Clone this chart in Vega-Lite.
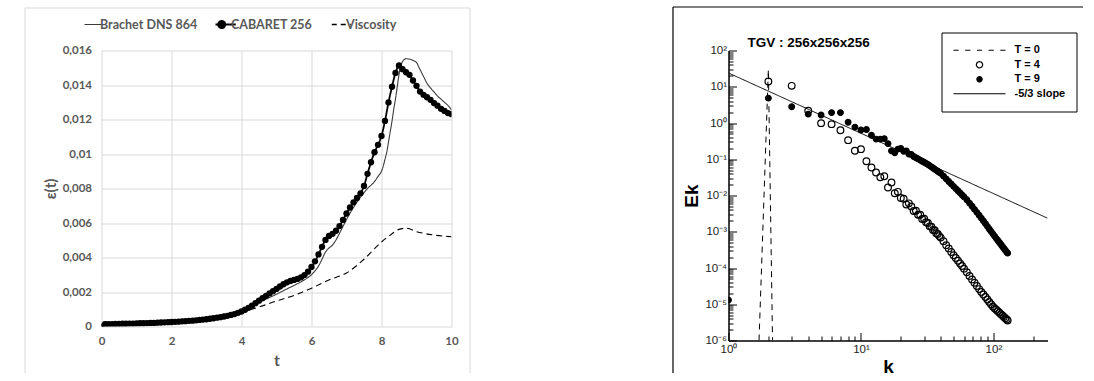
{
  "$schema": "https://vega.github.io/schema/vega-lite/v6.json",
  "background": "white",
  "padding": {"left": 24.5, "top": 6.5, "right": 0, "bottom": 0},
  "bounds": "flush",
  "spacing": 277,
  "config": {"view": {"stroke": null}},
  "datasets": {
    "eps": [
      {"t":0,"e":0,"s":"CABARET 256"},{"t":0.1,"e":0.00013,"s":"CABARET 256"},{"t":0.2,"e":0.00014,"s":"CABARET 256"},{"t":0.3,"e":0.00014,"s":"CABARET 256"},{"t":0.4,"e":0.00015,"s":"CABARET 256"},{"t":0.5,"e":0.00015,"s":"CABARET 256"},{"t":0.6,"e":0.00016,"s":"CABARET 256"},{"t":0.7,"e":0.00016,"s":"CABARET 256"},{"t":0.8,"e":0.00017,"s":"CABARET 256"},{"t":0.9,"e":0.00017,"s":"CABARET 256"},
      {"t":1.0,"e":0.00018,"s":"CABARET 256"},{"t":1.1,"e":0.00019,"s":"CABARET 256"},{"t":1.2,"e":0.00019,"s":"CABARET 256"},{"t":1.3,"e":0.0002,"s":"CABARET 256"},{"t":1.4,"e":0.00021,"s":"CABARET 256"},{"t":1.5,"e":0.00021,"s":"CABARET 256"},{"t":1.6,"e":0.00022,"s":"CABARET 256"},{"t":1.7,"e":0.00023,"s":"CABARET 256"},{"t":1.8,"e":0.00024,"s":"CABARET 256"},{"t":1.9,"e":0.00025,"s":"CABARET 256"},
      {"t":2.0,"e":0.00026,"s":"CABARET 256"},{"t":2.1,"e":0.00027,"s":"CABARET 256"},{"t":2.2,"e":0.00028,"s":"CABARET 256"},{"t":2.3,"e":0.0003,"s":"CABARET 256"},{"t":2.4,"e":0.00031,"s":"CABARET 256"},{"t":2.5,"e":0.00033,"s":"CABARET 256"},{"t":2.6,"e":0.00034,"s":"CABARET 256"},{"t":2.7,"e":0.00036,"s":"CABARET 256"},{"t":2.8,"e":0.00038,"s":"CABARET 256"},{"t":2.9,"e":0.0004,"s":"CABARET 256"},
      {"t":3.0,"e":0.00042,"s":"CABARET 256"},{"t":3.1,"e":0.00045,"s":"CABARET 256"},{"t":3.2,"e":0.00048,"s":"CABARET 256"},{"t":3.3,"e":0.00051,"s":"CABARET 256"},{"t":3.4,"e":0.00054,"s":"CABARET 256"},{"t":3.5,"e":0.00058,"s":"CABARET 256"},{"t":3.6,"e":0.00062,"s":"CABARET 256"},{"t":3.7,"e":0.00067,"s":"CABARET 256"},{"t":3.8,"e":0.00072,"s":"CABARET 256"},{"t":3.9,"e":0.00079,"s":"CABARET 256"},
      {"t":4.0,"e":0.00087,"s":"CABARET 256"},{"t":4.1,"e":0.00097,"s":"CABARET 256"},{"t":4.2,"e":0.00108,"s":"CABARET 256"},{"t":4.3,"e":0.00121,"s":"CABARET 256"},{"t":4.4,"e":0.00135,"s":"CABARET 256"},{"t":4.5,"e":0.0015,"s":"CABARET 256"},{"t":4.6,"e":0.00164,"s":"CABARET 256"},{"t":4.7,"e":0.00178,"s":"CABARET 256"},{"t":4.8,"e":0.00192,"s":"CABARET 256"},{"t":4.9,"e":0.00205,"s":"CABARET 256"},
      {"t":5.0,"e":0.00218,"s":"CABARET 256"},{"t":5.1,"e":0.00232,"s":"CABARET 256"},{"t":5.2,"e":0.00245,"s":"CABARET 256"},{"t":5.3,"e":0.00256,"s":"CABARET 256"},{"t":5.4,"e":0.00264,"s":"CABARET 256"},{"t":5.5,"e":0.0027,"s":"CABARET 256"},{"t":5.6,"e":0.00276,"s":"CABARET 256"},{"t":5.7,"e":0.00285,"s":"CABARET 256"},{"t":5.8,"e":0.00298,"s":"CABARET 256"},{"t":5.9,"e":0.00318,"s":"CABARET 256"},
      {"t":6.0,"e":0.00345,"s":"CABARET 256"},{"t":6.1,"e":0.00378,"s":"CABARET 256"},{"t":6.2,"e":0.00418,"s":"CABARET 256"},{"t":6.3,"e":0.00462,"s":"CABARET 256"},{"t":6.4,"e":0.00502,"s":"CABARET 256"},{"t":6.5,"e":0.00525,"s":"CABARET 256"},{"t":6.6,"e":0.00537,"s":"CABARET 256"},{"t":6.7,"e":0.00555,"s":"CABARET 256"},{"t":6.8,"e":0.00582,"s":"CABARET 256"},{"t":6.9,"e":0.00618,"s":"CABARET 256"},
      {"t":7.0,"e":0.00655,"s":"CABARET 256"},{"t":7.1,"e":0.0069,"s":"CABARET 256"},{"t":7.2,"e":0.0072,"s":"CABARET 256"},{"t":7.3,"e":0.00745,"s":"CABARET 256"},{"t":7.4,"e":0.00772,"s":"CABARET 256"},{"t":7.5,"e":0.00815,"s":"CABARET 256"},{"t":7.6,"e":0.00885,"s":"CABARET 256"},{"t":7.7,"e":0.00952,"s":"CABARET 256"},{"t":7.8,"e":0.0101,"s":"CABARET 256"},{"t":7.9,"e":0.01053,"s":"CABARET 256"},
      {"t":8.0,"e":0.01105,"s":"CABARET 256"},{"t":8.1,"e":0.01192,"s":"CABARET 256"},{"t":8.2,"e":0.01299,"s":"CABARET 256"},{"t":8.3,"e":0.0139,"s":"CABARET 256"},{"t":8.4,"e":0.0147,"s":"CABARET 256"},{"t":8.5,"e":0.01513,"s":"CABARET 256"},{"t":8.6,"e":0.01492,"s":"CABARET 256"},{"t":8.7,"e":0.01474,"s":"CABARET 256"},{"t":8.8,"e":0.01459,"s":"CABARET 256"},{"t":8.9,"e":0.01426,"s":"CABARET 256"},
      {"t":9.0,"e":0.01395,"s":"CABARET 256"},{"t":9.1,"e":0.01362,"s":"CABARET 256"},{"t":9.2,"e":0.01343,"s":"CABARET 256"},{"t":9.3,"e":0.01329,"s":"CABARET 256"},{"t":9.4,"e":0.01314,"s":"CABARET 256"},{"t":9.5,"e":0.01295,"s":"CABARET 256"},{"t":9.6,"e":0.0128,"s":"CABARET 256"},{"t":9.7,"e":0.01262,"s":"CABARET 256"},{"t":9.8,"e":0.0125,"s":"CABARET 256"},{"t":9.9,"e":0.01237,"s":"CABARET 256"},
      {"t":10.0,"e":0.01231,"s":"CABARET 256"},
      {"t":0,"e":0.00012,"s":"Brachet DNS 864"},{"t":0.5,"e":0.00014,"s":"Brachet DNS 864"},{"t":1,"e":0.00017,"s":"Brachet DNS 864"},{"t":1.5,"e":0.0002,"s":"Brachet DNS 864"},{"t":2,"e":0.00025,"s":"Brachet DNS 864"},{"t":2.5,"e":0.00032,"s":"Brachet DNS 864"},{"t":3,"e":0.00041,"s":"Brachet DNS 864"},{"t":3.5,"e":0.00056,"s":"Brachet DNS 864"},{"t":4,"e":0.00085,"s":"Brachet DNS 864"},{"t":4.25,"e":0.0011,"s":"Brachet DNS 864"},
      {"t":4.5,"e":0.0014,"s":"Brachet DNS 864"},{"t":4.75,"e":0.00163,"s":"Brachet DNS 864"},{"t":5,"e":0.00187,"s":"Brachet DNS 864"},{"t":5.25,"e":0.00213,"s":"Brachet DNS 864"},{"t":5.5,"e":0.00238,"s":"Brachet DNS 864"},{"t":5.75,"e":0.00265,"s":"Brachet DNS 864"},{"t":6,"e":0.003,"s":"Brachet DNS 864"},{"t":6.1,"e":0.00322,"s":"Brachet DNS 864"},{"t":6.2,"e":0.0035,"s":"Brachet DNS 864"},{"t":6.3,"e":0.0039,"s":"Brachet DNS 864"},
      {"t":6.4,"e":0.00432,"s":"Brachet DNS 864"},{"t":6.5,"e":0.00455,"s":"Brachet DNS 864"},{"t":6.6,"e":0.00472,"s":"Brachet DNS 864"},{"t":6.7,"e":0.00502,"s":"Brachet DNS 864"},{"t":6.8,"e":0.0054,"s":"Brachet DNS 864"},{"t":6.9,"e":0.0058,"s":"Brachet DNS 864"},{"t":7.0,"e":0.0062,"s":"Brachet DNS 864"},{"t":7.2,"e":0.0069,"s":"Brachet DNS 864"},{"t":7.4,"e":0.0075,"s":"Brachet DNS 864"},{"t":7.6,"e":0.008,"s":"Brachet DNS 864"},
      {"t":7.8,"e":0.0084,"s":"Brachet DNS 864"},{"t":7.9,"e":0.0087,"s":"Brachet DNS 864"},{"t":8.0,"e":0.009,"s":"Brachet DNS 864"},{"t":8.05,"e":0.0093,"s":"Brachet DNS 864"},{"t":8.1,"e":0.0097,"s":"Brachet DNS 864"},{"t":8.15,"e":0.0101,"s":"Brachet DNS 864"},{"t":8.2,"e":0.0107,"s":"Brachet DNS 864"},{"t":8.25,"e":0.0113,"s":"Brachet DNS 864"},{"t":8.3,"e":0.0119,"s":"Brachet DNS 864"},{"t":8.35,"e":0.0126,"s":"Brachet DNS 864"},{"t":8.4,"e":0.0132,"s":"Brachet DNS 864"},
      {"t":8.45,"e":0.0139,"s":"Brachet DNS 864"},{"t":8.5,"e":0.0146,"s":"Brachet DNS 864"},{"t":8.55,"e":0.0151,"s":"Brachet DNS 864"},{"t":8.6,"e":0.01535,"s":"Brachet DNS 864"},{"t":8.65,"e":0.01548,"s":"Brachet DNS 864"},{"t":8.7,"e":0.01552,"s":"Brachet DNS 864"},{"t":8.8,"e":0.0155,"s":"Brachet DNS 864"},{"t":8.9,"e":0.01543,"s":"Brachet DNS 864"},{"t":9.0,"e":0.0153,"s":"Brachet DNS 864"},{"t":9.1,"e":0.0149,"s":"Brachet DNS 864"},
      {"t":9.2,"e":0.0145,"s":"Brachet DNS 864"},{"t":9.3,"e":0.0141,"s":"Brachet DNS 864"},{"t":9.4,"e":0.01383,"s":"Brachet DNS 864"},{"t":9.5,"e":0.0136,"s":"Brachet DNS 864"},{"t":9.6,"e":0.01336,"s":"Brachet DNS 864"},{"t":9.7,"e":0.01318,"s":"Brachet DNS 864"},{"t":9.8,"e":0.013,"s":"Brachet DNS 864"},{"t":9.9,"e":0.01281,"s":"Brachet DNS 864"},{"t":10.0,"e":0.01256,"s":"Brachet DNS 864"},
      {"t":0,"e":0.00012,"s":"Viscosity"},{"t":1,"e":0.00017,"s":"Viscosity"},{"t":2,"e":0.00025,"s":"Viscosity"},{"t":3,"e":0.0004,"s":"Viscosity"},{"t":3.5,"e":0.00055,"s":"Viscosity"},{"t":4,"e":0.00082,"s":"Viscosity"},{"t":4.25,"e":0.00098,"s":"Viscosity"},{"t":4.5,"e":0.00113,"s":"Viscosity"},{"t":5,"e":0.00148,"s":"Viscosity"},{"t":5.5,"e":0.0018,"s":"Viscosity"},
      {"t":6,"e":0.00222,"s":"Viscosity"},{"t":6.5,"e":0.0027,"s":"Viscosity"},{"t":7,"e":0.0031,"s":"Viscosity"},{"t":7.5,"e":0.0039,"s":"Viscosity"},{"t":8,"e":0.0049,"s":"Viscosity"},{"t":8.25,"e":0.0053,"s":"Viscosity"},{"t":8.5,"e":0.00563,"s":"Viscosity"},{"t":8.7,"e":0.0057,"s":"Viscosity"},{"t":9,"e":0.0055,"s":"Viscosity"},{"t":9.5,"e":0.0053,"s":"Viscosity"},{"t":10,"e":0.0052,"s":"Viscosity"}
    ],
    "spec": [
      {"k":1.7,"E":0.000001,"s":"T = 0"},{"k":2,"E":30,"s":"T = 0"},{"k":2.15,"E":0.000001,"s":"T = 0"},
      {"k":1,"E":24,"s":"-5/3 slope"},{"k":256,"E":0.00237,"s":"-5/3 slope"},
      {"k":2,"E":14,"s":"T = 4"},{"k":3,"E":10.6,"s":"T = 4"},{"k":4,"E":2.17,"s":"T = 4"},{"k":5,"E":0.99,"s":"T = 4"},{"k":6,"E":0.93,"s":"T = 4"},{"k":7,"E":0.63,"s":"T = 4"},{"k":8,"E":0.336,"s":"T = 4"},{"k":9,"E":0.171,"s":"T = 4"},{"k":10,"E":0.19,"s":"T = 4"},{"k":11,"E":0.088,"s":"T = 4"},
      {"k":12,"E":0.059,"s":"T = 4"},{"k":13,"E":0.043,"s":"T = 4"},{"k":14,"E":0.032,"s":"T = 4"},{"k":15,"E":0.034,"s":"T = 4"},{"k":16,"E":0.0166,"s":"T = 4"},{"k":17,"E":0.023,"s":"T = 4"},{"k":18,"E":0.0115,"s":"T = 4"},{"k":19,"E":0.0126,"s":"T = 4"},{"k":20,"E":0.0085,"s":"T = 4"},{"k":21,"E":0.00813,"s":"T = 4"},
      {"k":22,"E":0.00562,"s":"T = 4"},{"k":23,"E":0.00608,"s":"T = 4"},{"k":24,"E":0.00501,"s":"T = 4"},{"k":25,"E":0.00372,"s":"T = 4"},{"k":26,"E":0.0038,"s":"T = 4"},{"k":27,"E":0.00295,"s":"T = 4"},{"k":28,"E":0.00295,"s":"T = 4"},{"k":29,"E":0.00224,"s":"T = 4"},{"k":30,"E":0.00229,"s":"T = 4"},{"k":31,"E":0.00182,"s":"T = 4"},
      {"k":32,"E":0.00174,"s":"T = 4"},{"k":33,"E":0.00141,"s":"T = 4"},{"k":34,"E":0.00138,"s":"T = 4"},{"k":35,"E":0.00112,"s":"T = 4"},{"k":36,"E":0.0011,"s":"T = 4"},{"k":37,"E":0.000912,"s":"T = 4"},{"k":38,"E":0.000871,"s":"T = 4"},{"k":39,"E":0.000759,"s":"T = 4"},{"k":40,"E":0.00069,"s":"T = 4"},{"k":42,"E":0.00055,"s":"T = 4"},
      {"k":44,"E":0.000427,"s":"T = 4"},{"k":46,"E":0.000347,"s":"T = 4"},{"k":48,"E":0.000275,"s":"T = 4"},{"k":50,"E":0.000226,"s":"T = 4"},{"k":52,"E":0.000188,"s":"T = 4"},{"k":54,"E":0.000158,"s":"T = 4"},{"k":56,"E":0.000133,"s":"T = 4"},{"k":58,"E":0.000113,"s":"T = 4"},{"k":60,"E":0.000096,"s":"T = 4"},{"k":63,"E":0.0000764,"s":"T = 4"},
      {"k":66,"E":0.0000605,"s":"T = 4"},{"k":69,"E":0.0000485,"s":"T = 4"},{"k":72,"E":0.0000392,"s":"T = 4"},{"k":75,"E":0.0000319,"s":"T = 4"},{"k":78,"E":0.0000262,"s":"T = 4"},{"k":81,"E":0.0000219,"s":"T = 4"},{"k":84,"E":0.0000185,"s":"T = 4"},{"k":87,"E":0.0000158,"s":"T = 4"},{"k":90,"E":0.0000135,"s":"T = 4"},{"k":93,"E":0.0000116,"s":"T = 4"},
      {"k":96,"E":0.00001,"s":"T = 4"},{"k":99,"E":0.00000871,"s":"T = 4"},{"k":102,"E":0.00000778,"s":"T = 4"},{"k":105,"E":0.00000705,"s":"T = 4"},{"k":108,"E":0.0000064,"s":"T = 4"},{"k":111,"E":0.00000583,"s":"T = 4"},{"k":114,"E":0.00000533,"s":"T = 4"},{"k":117,"E":0.00000488,"s":"T = 4"},{"k":120,"E":0.00000448,"s":"T = 4"},{"k":123,"E":0.00000411,"s":"T = 4"},
      {"k":126,"E":0.0000038,"s":"T = 4"},{"k":128,"E":0.00000355,"s":"T = 4"},
      {"k":1,"E":0.000013,"s":"T = 9"},{"k":2,"E":4.84,"s":"T = 9"},{"k":3,"E":2.8,"s":"T = 9"},{"k":4,"E":1.75,"s":"T = 9"},{"k":5,"E":1.66,"s":"T = 9"},{"k":6,"E":1.93,"s":"T = 9"},{"k":7,"E":1.93,"s":"T = 9"},{"k":8,"E":1.05,"s":"T = 9"},{"k":9,"E":0.77,"s":"T = 9"},{"k":10,"E":0.64,"s":"T = 9"},
      {"k":11,"E":0.66,"s":"T = 9"},{"k":12,"E":0.46,"s":"T = 9"},{"k":13,"E":0.36,"s":"T = 9"},{"k":14,"E":0.36,"s":"T = 9"},{"k":15,"E":0.37,"s":"T = 9"},{"k":16,"E":0.27,"s":"T = 9"},{"k":17,"E":0.17,"s":"T = 9"},{"k":18,"E":0.15,"s":"T = 9"},{"k":19,"E":0.19,"s":"T = 9"},{"k":20,"E":0.2,"s":"T = 9"},
      {"k":21,"E":0.166,"s":"T = 9"},{"k":22,"E":0.17,"s":"T = 9"},{"k":23,"E":0.138,"s":"T = 9"},{"k":24,"E":0.135,"s":"T = 9"},{"k":25,"E":0.119,"s":"T = 9"},{"k":26,"E":0.11,"s":"T = 9"},{"k":27,"E":0.102,"s":"T = 9"},{"k":28,"E":0.0946,"s":"T = 9"},{"k":29,"E":0.0881,"s":"T = 9"},{"k":30,"E":0.0824,"s":"T = 9"},
      {"k":31,"E":0.0771,"s":"T = 9"},{"k":32,"E":0.072,"s":"T = 9"},{"k":33,"E":0.0667,"s":"T = 9"},{"k":34,"E":0.0618,"s":"T = 9"},{"k":35,"E":0.0575,"s":"T = 9"},{"k":36,"E":0.0536,"s":"T = 9"},{"k":37,"E":0.05,"s":"T = 9"},{"k":38,"E":0.0468,"s":"T = 9"},{"k":39,"E":0.0439,"s":"T = 9"},{"k":40,"E":0.0409,"s":"T = 9"},
      {"k":42,"E":0.0342,"s":"T = 9"},{"k":44,"E":0.0288,"s":"T = 9"},{"k":46,"E":0.0244,"s":"T = 9"},{"k":48,"E":0.0209,"s":"T = 9"},{"k":50,"E":0.0179,"s":"T = 9"},{"k":52,"E":0.0155,"s":"T = 9"},{"k":54,"E":0.0135,"s":"T = 9"},{"k":56,"E":0.0118,"s":"T = 9"},{"k":58,"E":0.01035,"s":"T = 9"},{"k":60,"E":0.00914,"s":"T = 9"},
      {"k":63,"E":0.00764,"s":"T = 9"},{"k":66,"E":0.00617,"s":"T = 9"},{"k":69,"E":0.00504,"s":"T = 9"},{"k":72,"E":0.00413,"s":"T = 9"},{"k":75,"E":0.00343,"s":"T = 9"},{"k":78,"E":0.00286,"s":"T = 9"},{"k":81,"E":0.00238,"s":"T = 9"},{"k":84,"E":0.00199,"s":"T = 9"},{"k":87,"E":0.00167,"s":"T = 9"},{"k":90,"E":0.00141,"s":"T = 9"},
      {"k":93,"E":0.00119,"s":"T = 9"},{"k":96,"E":0.00102,"s":"T = 9"},{"k":99,"E":0.000875,"s":"T = 9"},{"k":102,"E":0.000757,"s":"T = 9"},{"k":105,"E":0.000658,"s":"T = 9"},{"k":108,"E":0.000575,"s":"T = 9"},{"k":111,"E":0.000505,"s":"T = 9"},{"k":114,"E":0.000444,"s":"T = 9"},{"k":117,"E":0.000392,"s":"T = 9"},{"k":120,"E":0.000347,"s":"T = 9"},
      {"k":123,"E":0.000308,"s":"T = 9"},{"k":126,"E":0.000275,"s":"T = 9"},{"k":128,"E":0.000257,"s":"T = 9"}
    ]
  },
  "hconcat": [
    {
      "width": 350,
      "height": 276,
      "data": {"name": "eps"},
      "layer": [
        {
          "transform": [{"filter": "false"}],
          "mark": {"type": "point", "opacity": 0},
          "encoding": {
            "x": {"field": "t", "type": "quantitative", "scale": {"type": "linear", "domain": [0, 1], "range": [-77, 368], "nice": false, "zero": false},
              "axis": {"orient": "top", "offset": 43, "domain": true, "domainColor": "#d9d9d9", "domainWidth": 1, "ticks": false, "labels": false, "grid": false, "title": null}},
            "y": {"field": "e", "type": "quantitative", "scale": {"type": "linear", "domain": [0, 1], "range": [322, -43], "nice": false, "zero": false},
              "axis": {"orient": "left", "offset": 77, "domain": true, "domainColor": "#d9d9d9", "domainWidth": 1, "ticks": false, "labels": false, "grid": false, "title": null}}
          }
        },
        {
          "transform": [{"filter": "false"}],
          "mark": {"type": "point", "opacity": 0},
          "encoding": {
            "x": {"field": "t", "type": "quantitative", "scale": {"type": "linear", "domain": [0, 1], "range": [-77, 368], "nice": false, "zero": false}, "axis": null},
            "y": {"field": "e", "type": "quantitative", "scale": {"type": "linear", "domain": [0, 1], "range": [322, -43], "nice": false, "zero": false},
              "axis": {"orient": "right", "offset": 18, "domain": true, "domainColor": "#d9d9d9", "domainWidth": 1, "ticks": false, "labels": false, "grid": false, "title": null}}
          }
        },
        {
          "mark": {"type": "line", "interpolate": "monotone", "clip": true},
          "encoding": {
            "x": {"field": "t", "type": "quantitative", "scale": {"domain": [0, 10], "nice": false},
              "axis": {"orient": "bottom", "values": [0, 2, 4, 6, 8, 10], "tickCount": 30, "format": "d", "title": "t", "grid": true, "gridColor": "#d9d9d9", "gridWidth": 1, "domain": false, "ticks": false, "labelFlush": false, "labelOverlap": false,
                "labelFont": "Lato", "labelFontSize": 11.5, "labelFontWeight": "bold", "labelColor": "#595959", "labelPadding": 9,
                "titleFont": "Lato", "titleFontSize": 16, "titleFontWeight": "bold", "titleColor": "#595959", "titlePadding": 5}},
            "y": {"field": "e", "type": "quantitative", "scale": {"domain": [0, 0.016], "nice": false},
              "axis": {"orient": "left", "values": [0, 0.002, 0.004, 0.006, 0.008, 0.01, 0.012, 0.014, 0.016], "tickCount": 30, "labelExpr": "replace(toString(datum.value), '.', ',')", "labelOverlap": false,
                "title": "ε(t)", "grid": true, "gridColor": "#d9d9d9", "gridWidth": 1, "domain": false, "ticks": false,
                "labelFont": "Lato", "labelFontSize": 11.5, "labelFontWeight": "bold", "labelColor": "#595959", "labelPadding": 10,
                "titleFont": "Lato", "titleFontSize": 15, "titleFontWeight": "bold", "titleColor": "#595959", "titlePadding": 4}},
            "stroke": {"field": "s", "type": "nominal",
              "scale": {"domain": ["Brachet DNS 864", "CABARET 256", "Viscosity"], "range": ["#3c3c3c", "#000000", "#000000"]},
              "legend": {"orient": "none", "legendX": -17, "legendY": -33, "direction": "horizontal", "columns": 3, "title": null,
                "symbolType": "stroke", "symbolSize": 784, "clipHeight": 14, "padding": 0, "labelOffset": 3, "columnPadding": 18,
                "labelFont": "Lato", "labelFontSize": 12.5, "labelFontWeight": "bold", "labelColor": "#595959",
                "encode": {"symbols": {"update": {
                  "size": {"value": 784},
                  "shape": {"signal": "datum.value === 'CABARET 256' ? 'M-1,0H1M0.25,0A0.25,0.25,0,1,1,-0.25,0A0.25,0.25,0,1,1,0.25,0Z' : 'stroke'"},
                  "fill": {"signal": "datum.value === 'CABARET 256' ? '#000000' : 'transparent'"},
                  "strokeWidth": {"signal": "datum.value === 'CABARET 256' ? 2 : datum.value === 'Viscosity' ? 1.5 : 1.1"},
                  "strokeDash": {"signal": "datum.value === 'Viscosity' ? [5, 4] : [1, 0]"}
                }}}}},
            "strokeWidth": {"condition": {"test": "datum.s === 'CABARET 256'", "value": 1.8}, "value": 1.1},
            "strokeDash": {"condition": {"test": "datum.s === 'Viscosity'", "value": [6, 4]}, "value": [1, 0]}
          }
        },
        {
          "transform": [{"filter": "datum.s === 'CABARET 256'"}],
          "mark": {"type": "point", "shape": "circle", "filled": true, "color": "#000000", "size": 40, "opacity": 1, "clip": true},
          "encoding": {
            "x": {"field": "t", "type": "quantitative", "scale": {"domain": [0, 10], "nice": false}, "axis": null},
            "y": {"field": "e", "type": "quantitative", "scale": {"domain": [0, 0.016], "nice": false}, "axis": null}
          }
        }
      ],
      "resolve": {"scale": {"x": "independent", "y": "independent"}, "axis": {"x": "independent", "y": "independent"}}
    },
    {
      "width": 319,
      "height": 290,
      "title": {"text": "TGV : 256x256x256", "anchor": "start", "frame": "group", "dx": 19, "dy": 45.5, "offset": 3, "font": "Liberation Sans", "fontSize": 13.5, "fontWeight": "bold", "color": "#000000"},
      "data": {"name": "spec"},
      "layer": [
        {
          "transform": [{"filter": "false"}],
          "mark": {"type": "point", "opacity": 0},
          "encoding": {
            "x": {"field": "k", "type": "quantitative", "scale": {"type": "linear", "domain": [0, 1], "range": [-56, 354], "nice": false, "zero": false},
              "axis": {"orient": "top", "offset": 44, "domain": true, "domainColor": "#000000", "domainWidth": 1.2, "ticks": false, "labels": false, "grid": false, "title": null}},
            "y": {"field": "E", "type": "quantitative", "scale": {"type": "linear", "domain": [0, 1], "range": [322, -44], "nice": false, "zero": false},
              "axis": {"orient": "left", "offset": 56, "domain": true, "domainColor": "#000000", "domainWidth": 1.2, "ticks": false, "labels": false, "grid": false, "title": null}}
          }
        },
        {
          "transform": [{"filter": "datum.s === 'T = 4' || datum.s === 'T = 9'"}],
          "mark": {"type": "point", "shape": "circle", "stroke": "#000000", "strokeWidth": 1.2, "opacity": 1, "clip": true},
          "encoding": {
            "x": {"field": "k", "type": "quantitative", "scale": {"type": "log", "domain": [1, 256], "nice": false},
              "axis": {"orient": "bottom", "values": [2, 3, 4, 5, 6, 7, 8, 9, 20, 30, 40, 50, 60, 70, 80, 90, 200], "tickCount": 50, "tickSize": -4.5, "tickColor": "#000000", "tickWidth": 1, "labels": false, "domain": false, "grid": false, "title": null}},
            "y": {"field": "E", "type": "quantitative", "scale": {"type": "log", "domain": [0.000001, 100], "nice": false},
              "axis": {"orient": "left", "values": [2e-6, 3e-6, 4e-6, 5e-6, 6e-6, 7e-6, 8e-6, 9e-6, 2e-5, 3e-5, 4e-5, 5e-5, 6e-5, 7e-5, 8e-5, 9e-5, 0.0002, 0.0003, 0.0004, 0.0005, 0.0006, 0.0007, 0.0008, 0.0009, 0.002, 0.003, 0.004, 0.005, 0.006, 0.007, 0.008, 0.009, 0.02, 0.03, 0.04, 0.05, 0.06, 0.07, 0.08, 0.09, 0.2, 0.3, 0.4, 0.5, 0.6, 0.7, 0.8, 0.9, 2, 3, 4, 5, 6, 7, 8, 9, 20, 30, 40, 50, 60, 70, 80, 90],
                "tickCount": 100, "tickSize": -4.5, "tickColor": "#000000", "tickWidth": 1, "labels": false, "domain": false, "grid": false, "title": null}},
            "fill": {"condition": {"test": "datum.s === 'T = 9'", "value": "#000000"}, "value": "transparent"},
            "size": {"condition": {"test": "datum.s === 'T = 9'", "value": 32}, "value": 45}
          }
        },
        {
          "transform": [{"filter": "datum.s === 'T = 0' || datum.s === '-5/3 slope'"}],
          "mark": {"type": "line", "strokeWidth": 1, "clip": true},
          "encoding": {
            "x": {"field": "k", "type": "quantitative", "scale": {"type": "log", "domain": [1, 256], "nice": false},
              "axis": {"orient": "bottom", "values": [1, 10, 100], "labelExpr": "datum.value >= 99 ? '10²' : datum.value >= 9 ? '10¹' : '10⁰'",
                "tickSize": -8, "tickColor": "#000000", "tickWidth": 1, "domainColor": "#000000", "domainWidth": 1.5, "grid": false, "labelFlush": false,
                "labelFont": "Liberation Sans", "labelFontSize": 11.5, "labelColor": "#222222", "labelPadding": 11,
                "title": "k", "titleFont": "Liberation Sans", "titleFontSize": 19, "titleFontWeight": "bold", "titleColor": "#000000", "titlePadding": 2}},
            "y": {"field": "E", "type": "quantitative", "scale": {"type": "log", "domain": [0.000001, 100], "nice": false},
              "axis": {"orient": "left", "values": [0.000001, 0.00001, 0.0001, 0.001, 0.01, 0.1, 1, 10, 100],
                "labelExpr": "datum.value >= 99 ? '10²' : datum.value >= 9 ? '10¹' : datum.value >= 0.9 ? '10⁰' : datum.value >= 0.09 ? '10⁻¹' : datum.value >= 0.009 ? '10⁻²' : datum.value >= 0.0009 ? '10⁻³' : datum.value >= 0.00009 ? '10⁻⁴' : datum.value >= 0.000009 ? '10⁻⁵' : '10⁻⁶'",
                "tickSize": -8, "tickColor": "#000000", "tickWidth": 1, "domainColor": "#000000", "domainWidth": 1.5, "grid": false, "labelFlush": false, "labelOverlap": false,
                "labelFont": "Liberation Sans", "labelFontSize": 11.5, "labelColor": "#222222", "labelPadding": 10,
                "title": "Ek", "titleFont": "Liberation Sans", "titleFontSize": 19, "titleFontWeight": "bold", "titleColor": "#000000", "titlePadding": 3}},
            "color": {"field": "s", "type": "nominal",
              "scale": {"domain": ["T = 0", "T = 4", "T = 9", "-5/3 slope"], "range": ["#000000", "#000000", "#000000", "#000000"]},
              "legend": {"orient": "none", "legendX": 840, "legendY": -18, "direction": "vertical", "columns": 1, "title": null,
                "symbolType": "stroke", "symbolSize": 2704, "clipHeight": 13.5, "rowPadding": 0.5, "padding": 11, "labelOffset": 8,
                "strokeColor": "#000000", "fillColor": "#ffffff", "cornerRadius": 0,
                "labelFont": "Liberation Sans", "labelFontSize": 11, "labelFontWeight": "bold", "labelColor": "#000000",
                "encode": {"symbols": {"update": {
                  "size": {"value": 2704},
                  "shape": {"signal": "datum.value === 'T = 4' ? 'M0.12,0A0.12,0.12,0,1,1,-0.12,0A0.12,0.12,0,1,1,0.12,0Z' : datum.value === 'T = 9' ? 'M0.1,0A0.1,0.1,0,1,1,-0.1,0A0.1,0.1,0,1,1,0.1,0Z' : datum.value === 'T = 0' ? 'M-1,0H-0.8M-0.55,0H-0.35M-0.1,0H0.1M0.35,0H0.55M0.8,0H1' : 'stroke'"},
                  "fill": {"signal": "datum.value === 'T = 9' ? '#000000' : 'transparent'"},
                  "strokeWidth": {"value": 1.2},
                  "strokeDash": {"signal": "[1, 0]"}
                }}}}},
            "strokeDash": {"condition": {"test": "datum.s === 'T = 0'", "value": [6, 5]}, "value": [1, 0]}
          }
        }
      ],
      "resolve": {"scale": {"x": "independent", "y": "independent"}, "axis": {"x": "independent", "y": "independent"}}
    }
  ]
}
